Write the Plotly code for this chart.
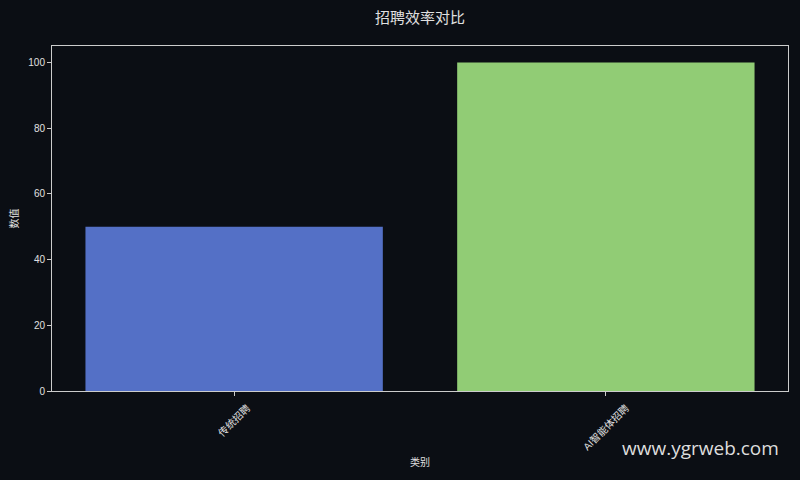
import plotly.graph_objects as go

# chart data
categories = ['传统招聘', 'AI智能体招聘']
values = [50, 100]
bar_colors = ['#5470c6', '#91cc75']
y_ticks = [0, 20, 40, 60, 80, 100]

bg = '#0b0e14'
fg = '#e0e0e0'
font_family = 'Liberation Sans, Noto Sans CJK SC, sans-serif'

fig = go.Figure()

fig.add_trace(go.Bar(x=categories, y=values, marker_color=bar_colors,
                     marker_line_width=0, width=0.8))

fig.update_layout(
    width=800, height=480,
    paper_bgcolor=bg, plot_bgcolor=bg,
    margin=dict(l=52, r=12, t=46, b=89),
    font=dict(family=font_family, color=fg, size=10),
    title=dict(text='招聘效率对比', x=0.525, xanchor='center', y=0.962, yanchor='middle',
               font=dict(family='Noto Sans CJK SC, sans-serif', size=15, color=fg)),
    showlegend=False,
    bargap=0.2,
)

# tick labels are drawn as annotations below so they sit centred under the ticks
fig.update_xaxes(
    range=[-0.49, 1.49], showticklabels=False,
    showline=True, linecolor='#cccccc', linewidth=1, mirror=True,
    ticks='outside', ticklen=4, tickcolor='#cccccc',
    showgrid=False, zeroline=False,
    title=dict(text='类别', font=dict(size=10, color=fg), standoff=63),
)

fig.update_yaxes(
    range=[0, 105], tickvals=y_ticks,
    showline=True, linecolor='#cccccc', linewidth=1, mirror=True,
    ticks='outside', ticklen=4, tickcolor='#cccccc',
    showgrid=False, zeroline=False,
    tickfont=dict(size=10, color=fg),
    title=dict(text='数值', font=dict(size=10, color=fg), standoff=7),
)

for cat in categories:
    fig.add_annotation(text=cat, x=cat, xref='x', y=0, yref='paper',
                       xanchor='center', yanchor='top', yshift=-8,
                       textangle=-45, showarrow=False,
                       font=dict(size=10, color=fg))

fig.add_annotation(text='www.ygrweb.com', xref='paper', yref='paper',
                   x=0.99, y=-0.165, xanchor='right', yanchor='middle',
                   showarrow=False,
                   font=dict(family='Open Sans, Noto Sans, sans-serif', size=19, color='#dddddd'))

fig.write_html('out.html', config={'displayModeBar': False},
               post_script="document.body.style.margin='0';document.body.style.background='#0b0e14';")
